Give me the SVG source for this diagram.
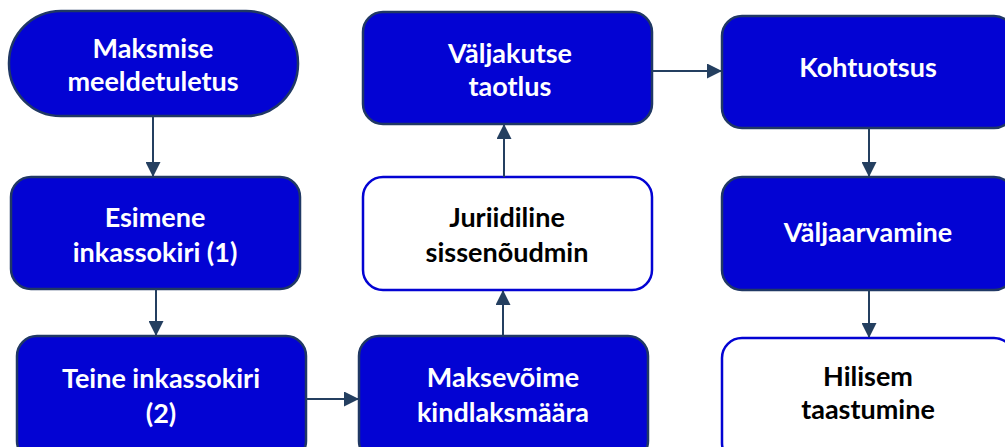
<svg xmlns="http://www.w3.org/2000/svg" width="1005" height="447" viewBox="0 0 1005 447">
<defs>
<marker id="ah" markerWidth="15" markerHeight="15" refX="14" refY="7.5" orient="auto" markerUnits="userSpaceOnUse" viewBox="0 0 15 15">
<path d="M0,0 L15,7.5 L0,15 Z" fill="#243F60"/>
</marker>
<style>
.dark{fill:#0303D3;stroke:#203864;stroke-width:2.5}
.light{fill:#FFFFFF;stroke:#0303D3;stroke-width:2.5}
.t{font-family:Lato,"Open Sans","Liberation Sans",sans-serif;font-weight:bold;font-size:27px;text-anchor:middle}
.w{fill:#FFFFFF}
.b{fill:#000000}
.c{stroke:#243F60;stroke-width:2;fill:none;marker-end:url(#ah)}
</style>
</defs>
<rect width="1005" height="447" fill="#FFFFFF"/>
<g id="n1">
<rect class="dark" x="9" y="11" width="289" height="105" rx="52" ry="52"/>
<text class="t w" x="153" y="58">Maksmise</text>
<text class="t w" x="153" y="91">meeldetuletus</text>
</g>
<g id="n2">
<rect class="dark" x="11" y="177" width="289" height="112" rx="20" ry="20"/>
<text class="t w" x="155" y="227">Esimene</text>
<text class="t w" x="155" y="262">inkassokiri (1)</text>
</g>
<g id="n3">
<rect class="dark" x="17" y="336" width="289" height="125" rx="20" ry="20"/>
<text class="t w" x="161" y="388">Teine inkassokiri</text>
<text class="t w" x="161" y="423">(2)</text>
</g>
<g id="n4">
<rect class="dark" x="359" y="336" width="289" height="125" rx="20" ry="20"/>
<text class="t w" x="503" y="387">Maksevõime</text>
<text class="t w" x="503" y="422">kindlaksmäära</text>
</g>
<g id="n5">
<rect class="light" x="363" y="177" width="289" height="113" rx="20" ry="20"/>
<text class="t b" x="507" y="227">Juriidiline</text>
<text class="t b" x="507" y="262">sissenõudmin</text>
</g>
<g id="n6">
<rect class="dark" x="363" y="12" width="289" height="112" rx="20" ry="20"/>
<text class="t w" x="510" y="63">Väljakutse</text>
<text class="t w" x="510" y="96">taotlus</text>
</g>
<g id="n7">
<rect class="dark" x="722" y="16" width="292" height="112" rx="20" ry="20"/>
<text class="t w" x="868" y="77">Kohtuotsus</text>
</g>
<g id="n8">
<rect class="dark" x="722" y="177" width="292" height="113" rx="20" ry="20"/>
<text class="t w" x="868" y="242">Väljaarvamine</text>
</g>
<g id="n9">
<rect class="light" x="722" y="338" width="292" height="125" rx="20" ry="20"/>
<text class="t b" x="868" y="386">Hilisem</text>
<text class="t b" x="868" y="419">taastumine</text>
</g>
<g id="connectors">
<line class="c" x1="153" y1="116" x2="153" y2="176"/>
<line class="c" x1="156" y1="289" x2="156" y2="335"/>
<line class="c" x1="306" y1="399" x2="358" y2="399"/>
<line class="c" x1="503" y1="336" x2="503" y2="291"/>
<line class="c" x1="504" y1="177" x2="504" y2="125"/>
<line class="c" x1="652" y1="71" x2="721" y2="71"/>
<line class="c" x1="869" y1="128" x2="869" y2="176"/>
<line class="c" x1="869" y1="290" x2="869" y2="337"/>
</g>
</svg>
